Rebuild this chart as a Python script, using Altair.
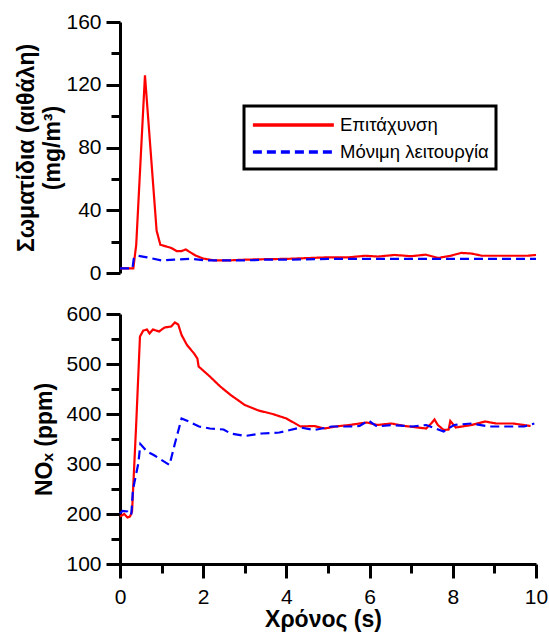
import altair as alt
import pandas as pd

# ---- data ----
series_names = ["Επιτάχυνση", "Μόνιμη λειτουργία"]
series_colors = ["#ff0000", "#0000ff"]
series_dashes = [[1, 0], [9, 5]]

# Top panel: particulates (soot), mg/m3
t_pm_acc = [0, 0.32, 0.39, 0.6, 0.88, 0.97, 1.1, 1.23, 1.36, 1.48, 1.58, 1.7, 1.83,
            2.0, 2.25, 2.6, 3.0, 3.5, 4.0, 4.5, 5.0, 5.5, 5.9, 6.2, 6.6, 7.0, 7.35,
            7.65, 7.95, 8.2, 8.45, 8.7, 9.3, 9.8, 10]
pm_acc = [3, 3, 18, 126, 27, 18, 17, 16, 14, 14, 15, 13, 11,
          9.2, 8.1, 8, 8.5, 8.8, 9, 9.5, 10, 10, 11, 10.5, 11.5, 10.7, 11.7,
          9.6, 11, 12.8, 12.4, 11, 11, 11, 11.5]
t_pm_ss = [0, 0.3, 0.33, 0.42, 0.65, 1.0, 1.3, 1.7, 2.1, 2.5, 3.0, 3.5, 4.0, 5.0,
           6.0, 7.0, 8.0, 9.0, 10]
pm_ss = [3, 3, 9, 11, 10, 8, 8.5, 9, 8, 8, 8, 8.5, 8.5, 9, 9, 9, 9, 9, 9]

# Bottom panel: NOx, ppm
t_nox_acc = [0, 0.1, 0.18, 0.24, 0.29, 0.39, 0.48, 0.56, 0.65, 0.71, 0.79, 0.94,
             1.07, 1.23, 1.32, 1.4, 1.48, 1.61, 1.78, 1.86, 1.89, 2.16, 2.41, 2.66,
             3.0, 3.33, 3.67, 4.0, 4.34, 4.67, 4.92, 5.18, 5.51, 5.93, 6.18, 6.52,
             6.85, 7.36, 7.48, 7.56, 7.64, 7.78, 7.9, 7.94, 8.07, 8.45, 8.78, 9.04,
             9.45, 9.87]
nox_acc = [195, 200, 193, 195, 205, 381, 555, 567, 569, 561, 569, 565,
           573, 575, 583, 579, 558, 538, 521, 511, 495, 475, 455, 438,
           418, 407, 400, 391, 375, 376, 371, 375, 378, 383, 378, 381,
           376, 371, 381, 389, 378, 368, 369, 386, 373, 378, 385, 381,
           381, 376]
t_nox_ss = [0, 0.06, 0.18, 0.27, 0.29, 0.31, 0.44, 0.49, 0.65, 0.81, 1.19, 1.32,
            1.48, 1.65, 1.9, 2.16, 2.49, 2.66, 3.0, 3.41, 3.83, 4.09, 4.34, 4.67,
            5.09, 5.51, 5.76, 5.97, 6.18, 6.52, 7.02, 7.36, 7.78, 8.03, 8.45, 8.87,
            9.29, 9.71, 9.96]
nox_ss = [201, 206, 205, 198, 221, 248, 301, 340, 325, 318, 298, 341,
          391, 385, 375, 371, 369, 361, 356, 361, 363, 368, 373, 368,
          375, 375, 376, 387, 375, 378, 375, 378, 365, 378, 381, 375,
          375, 375, 381]


def frame(t1, v1, t2, v2):
    rows = [{"t": a, "v": b, "s": series_names[0]} for a, b in zip(t1, v1)]
    rows += [{"t": a, "v": b, "s": series_names[1]} for a, b in zip(t2, v2)]
    return pd.DataFrame(rows)


df_top = frame(t_pm_acc, pm_acc, t_pm_ss, pm_ss)
df_bot = frame(t_nox_acc, nox_acc, t_nox_ss, nox_ss)

FONT = "Liberation Sans"
W, H_TOP, H_BOT = 416, 251, 250
LABEL_SIZE = 21
TITLE_SIZE = 23


def tick_size(step):
    return {"condition": {"test": f"datum.value % {step} !== 0", "value": 9}, "value": 14}


def y_axis(values, major, title, title_padding):
    return alt.Axis(values=values,
                    labelExpr=f"datum.value % {major} === 0 ? datum.label : ''",
                    tickSize=tick_size(major), tickWidth=3, tickColor="black",
                    domainWidth=3, domainColor="black", grid=False, labelFlush=False,
                    labelFont=FONT, labelFontSize=LABEL_SIZE, labelColor="black", labelPadding=5,
                    title=title, titleFont=FONT, titleFontSize=TITLE_SIZE, titleFontWeight="bold",
                    titleColor="black", titlePadding=title_padding, titleLineHeight=26)


legend = alt.Legend(title=None, orient="none", legendX=124, legendY=84,
                    symbolType="M-1,0L7,0", symbolSize=410, symbolStrokeWidth=3.3,
                    labelOffset=65, labelFont=FONT, labelFontSize=18.5, labelColor="black",
                    padding=7, rowPadding=5, strokeColor="black")

top = alt.Chart(df_top).mark_line(strokeWidth=2.2).encode(
    x=alt.X("t:Q", scale=alt.Scale(domain=[0, 10], nice=False), axis=None),
    y=alt.Y("v:Q", scale=alt.Scale(domain=[0, 160], nice=False),
            axis=y_axis(list(range(0, 161, 20)), 40,
                        ["\u00a0" * 5 + "Σωματίδια (αιθάλη)", "(mg/m³)"], 1)),
    color=alt.Color("s:N", scale=alt.Scale(domain=series_names, range=series_colors),
                    legend=legend),
    strokeDash=alt.StrokeDash("s:N", scale=alt.Scale(domain=series_names, range=series_dashes),
                              legend=legend),
).properties(width=W, height=H_TOP)

bottom = alt.Chart(df_bot).mark_line(strokeWidth=2.2).encode(
    x=alt.X("t:Q", scale=alt.Scale(domain=[0, 10], nice=False),
            axis=alt.Axis(values=list(range(0, 11)),
                          labelExpr="datum.value % 2 === 0 ? datum.label : ''",
                          tickSize=tick_size(2), tickWidth=3, tickColor="black",
                          domainWidth=3, domainColor="black", grid=False, labelFlush=False,
                          labelFont=FONT, labelFontSize=LABEL_SIZE, labelColor="black",
                          labelPadding=8,
                          title="Χρόνος (s)", titleFont=FONT, titleFontSize=TITLE_SIZE,
                          titleFontWeight="bold", titleColor="black", titlePadding=1,
                          titleX=203)),
    y=alt.Y("v:Q", scale=alt.Scale(domain=[100, 600], nice=False),
            axis=y_axis(list(range(100, 601, 50)), 100, "NOₓ (ppm)", 9)),
    color=alt.Color("s:N", scale=alt.Scale(domain=series_names, range=series_colors),
                    legend=None),
    strokeDash=alt.StrokeDash("s:N", scale=alt.Scale(domain=series_names, range=series_dashes),
                              legend=None),
).properties(width=W, height=H_BOT)

chart = alt.vconcat(top, bottom, spacing=41, bounds="flush").resolve_legend(
    color="independent", strokeDash="independent"
).properties(
    padding={"left": 15, "top": 11, "right": 0, "bottom": 2}
).configure_view(stroke=None).configure_legend(strokeWidth=3)

chart.save("out.html", embed_options={"renderer": "svg", "actions": False})
